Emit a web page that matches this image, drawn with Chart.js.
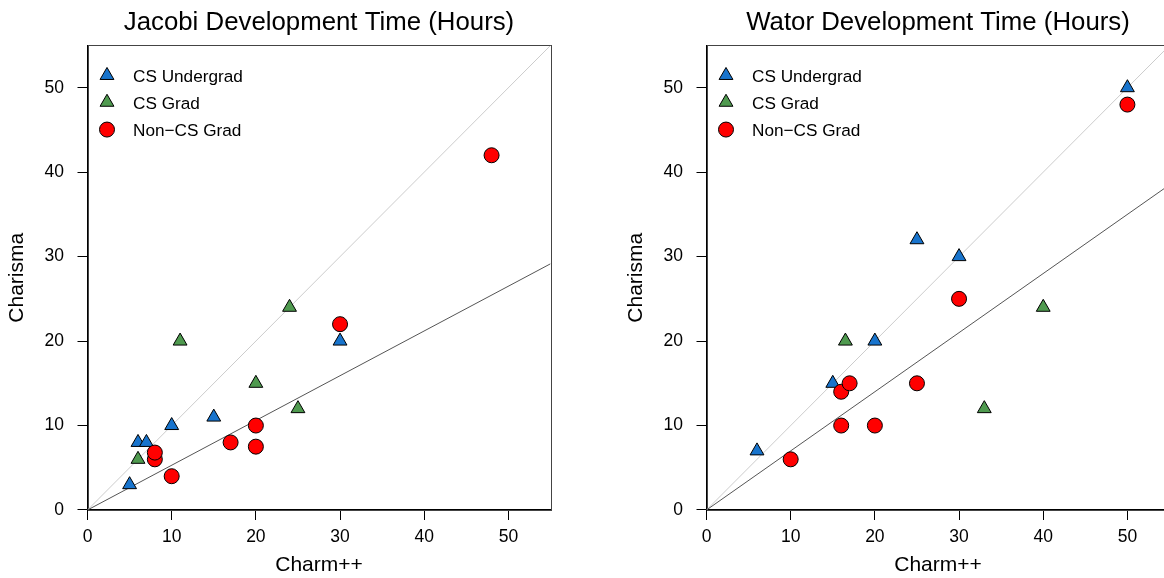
<!DOCTYPE html>
<html>
<head>
<meta charset="utf-8">
<script src="https://cdn.jsdelivr.net/npm/chart.js@4/dist/chart.umd.min.js"></script>
<style>
  html, body { margin: 0; padding: 0; background: #fff; overflow: hidden; width: 1164px; height: 578px; }
  canvas { position: absolute; top: 0; }
  #jacobiChart { left: 0; }
  #watorChart { left: 619px; }
</style>
</head>
<body>
<canvas id="jacobiChart" width="582" height="578"></canvas>
<canvas id="watorChart" width="582" height="578"></canvas>
<script>
const tickValues = [0, 10, 20, 30, 40, 50];
const groupNames = ['CS Undergrad', 'CS Grad', 'Non\u2212CS Grad'];

// Jacobi
const jacobiUndergradX = [5, 6, 7, 10, 15, 30];
const jacobiUndergradY = [3, 8, 8, 10, 11, 20];
const jacobiGradX = [6, 11, 20, 24, 25];
const jacobiGradY = [6, 20, 15, 24, 12];
const jacobiNonCsX = [8, 8, 10, 17, 20, 20, 30, 48];
const jacobiNonCsY = [6, 6.8, 4, 8, 10, 7.5, 22, 42];
const jacobiFitSlope = 0.53;

// Wator
const watorUndergradX = [6, 15, 20, 25, 30, 50];
const watorUndergradY = [7, 15, 20, 32, 30, 50];
const watorGradX = [16.5, 33, 40];
const watorGradY = [20, 12, 24];
const watorNonCsX = [10, 16, 16, 17, 20, 25, 30, 50];
const watorNonCsY = [6, 10, 14, 15, 10, 15, 25, 48];
const watorFitSlope = 0.70;

const axisMax = 55;
const colors = ['#1874cd', '#4f9a4f', '#ff0000'];
const styles = ['triangle', 'triangle', 'circle'];

Chart.defaults.font.family = '"Liberation Sans", Arial, Helvetica, sans-serif';
Chart.defaults.color = '#000';

function zip(xs, ys) {
    return xs.map((x, i) => ({ x: x, y: ys[i] }));
}

// box around the plot region
const boxPlugin = {
    id: 'box',
    beforeDatasetsDraw(chart) {
        const a = chart.chartArea;
        const ctx = chart.ctx;
        ctx.save();
        ctx.strokeStyle = '#444';
        ctx.lineWidth = 1;
        ctx.strokeRect(Math.round(a.left) + 0.5, Math.round(a.top) + 0.5,
            Math.round(a.right - a.left), Math.round(a.bottom - a.top));
        ctx.restore();
    }
};

// legend in the top-left corner of the plot
const legendPlugin = {
    id: 'innerLegend',
    afterDatasetsDraw(chart) {
        const a = chart.chartArea;
        const ctx = chart.ctx;
        ctx.save();
        groupNames.forEach((name, i) => {
            const x = a.left + 19.5;
            const y = a.top + 31 + i * 26.8;
            ctx.fillStyle = colors[i];
            ctx.strokeStyle = '#000';
            ctx.lineWidth = 1;
            ctx.beginPath();
            if (styles[i] === 'circle') {
                ctx.arc(x, y - 0.5, 7.5, 0, Math.PI * 2);
            } else {
                const r = 8;
                for (let k = 0; k < 3; k++) {
                    const ang = -Math.PI / 2 + k * 2 * Math.PI / 3;
                    const px = x + Math.cos(ang) * r, py = y - 1 + Math.sin(ang) * r;
                    if (k === 0) ctx.moveTo(px, py); else ctx.lineTo(px, py);
                }
                ctx.closePath();
            }
            ctx.fill();
            ctx.stroke();
            ctx.fillStyle = '#000';
            ctx.font = '17.2px "Liberation Sans", Arial, sans-serif';
            ctx.textBaseline = 'middle';
            ctx.textAlign = 'left';
            ctx.fillText(name, a.left + 45.5, y + 1);
        });
        ctx.restore();
    }
};

function axis(titleText, isX) {
    return {
        type: 'linear',
        min: 0,
        max: axisMax,
        afterBuildTicks: s => { s.ticks = tickValues.map(v => ({ value: v })); },
        afterFit: s => { if (isX) s.height = 68; else s.width = 87.5; },
        ticks: { font: { size: 17.5 }, color: '#000', padding: isX ? 7 : 13.5, maxRotation: 0, autoSkip: false },
        grid: { drawOnChartArea: false, drawTicks: true, tickLength: 10, color: '#000', lineWidth: 1 },
        border: { display: true, color: '#000', width: 1 },
        title: {
            display: true, text: titleText, color: '#000', font: { size: 21 },
            padding: isX ? { top: 0, bottom: 0 } : { top: 4.5, bottom: 0 }
        }
    };
}

function makeChart(id, titleText, ux, uy, gx, gy, nx, ny, slope) {
    const canvas = document.getElementById(id);
    const pointSets = [zip(ux, uy), zip(gx, gy), zip(nx, ny)];
    const datasets = [
        { type: 'line', data: [{ x: 0, y: 0 }, { x: axisMax, y: axisMax }], borderColor: '#cccccc',
          borderWidth: 1, pointRadius: 0, order: 10 },
        { type: 'line', data: [{ x: 0, y: 0 }, { x: axisMax, y: axisMax * slope }], borderColor: '#555555',
          borderWidth: 1, pointRadius: 0, order: 9 }
    ];
    pointSets.forEach((pts, i) => {
        datasets.push({
            label: groupNames[i],
            data: pts,
            pointStyle: styles[i],
            pointRadius: styles[i] === 'circle' ? 7.5 : 8,
            backgroundColor: colors[i],
            borderColor: '#000',
            borderWidth: 1,
            order: 3 - i
        });
    });
    new Chart(canvas.getContext('2d'), {
        type: 'scatter',
        data: { datasets: datasets },
        options: {
            responsive: false,
            animation: false,
            layout: { padding: { left: 0, right: 31.5, top: 0, bottom: 0 } },
            plugins: {
                legend: { display: false },
                tooltip: { enabled: false },
                title: {
                    display: true, text: titleText, fullSize: false, color: '#000',
                    font: { size: 25.8, weight: 'normal' },
                    padding: { top: 7.5, bottom: 7 }
                }
            },
            scales: { x: axis('Charm++', true), y: axis('Charisma', false) }
        },
        plugins: [boxPlugin, legendPlugin]
    });
}

makeChart('jacobiChart', 'Jacobi Development Time (Hours)',
    jacobiUndergradX, jacobiUndergradY, jacobiGradX, jacobiGradY, jacobiNonCsX, jacobiNonCsY, jacobiFitSlope);
makeChart('watorChart', 'Wator Development Time (Hours)',
    watorUndergradX, watorUndergradY, watorGradX, watorGradY, watorNonCsX, watorNonCsY, watorFitSlope);
</script>
</body>
</html>
